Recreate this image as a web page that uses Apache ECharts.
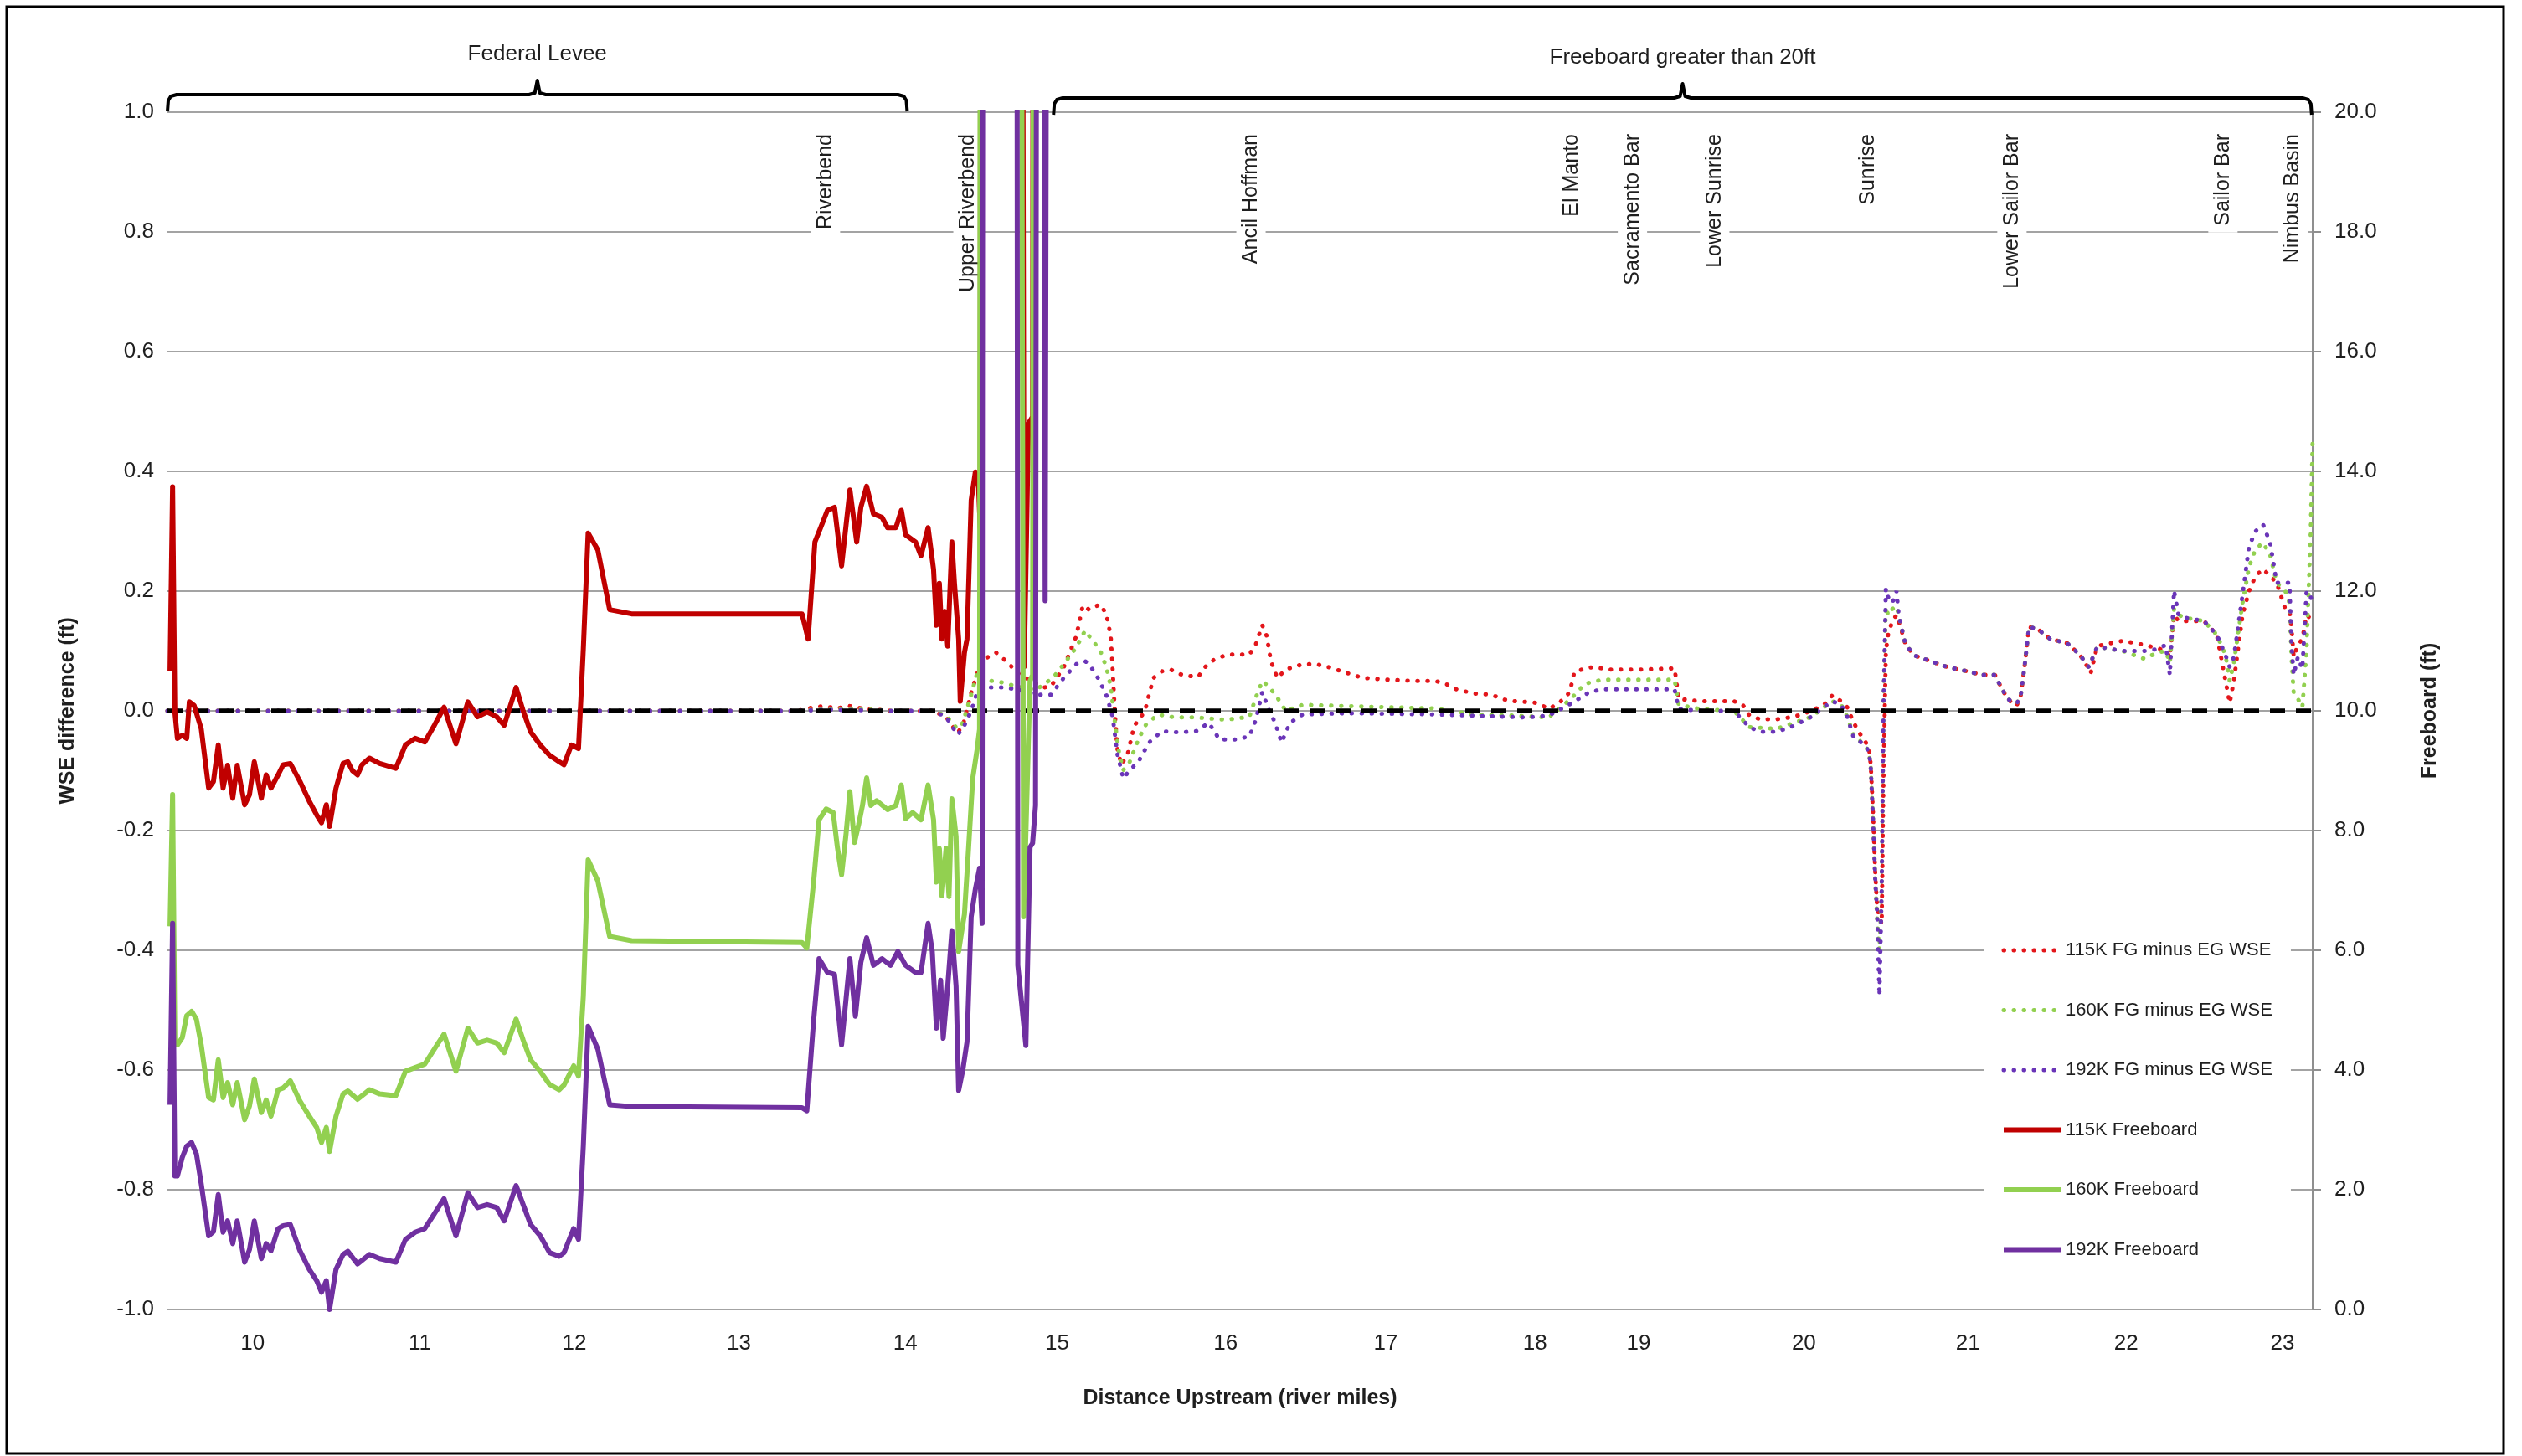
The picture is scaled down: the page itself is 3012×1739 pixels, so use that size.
<!DOCTYPE html>
<html>
<head>
<meta charset="utf-8">
<script src="https://cdn.jsdelivr.net/npm/echarts@6/dist/echarts.min.js"></script>
<style>
html,body{margin:0;padding:0;background:#ffffff;}
#main{width:3012px;height:1739px;}
</style>
</head>
<body>
<div id="main"></div>
<script>
// x = cross-section station index along the river (category-like position, as in the source chart)
const tickStations = [26.5, 78.5, 126.5, 177.7, 229.4, 276.6, 329, 378.8, 425.2, 457.4, 508.8, 559.8, 609, 657.6];
const mileLabels   = ['10','11','12','13','14','15','16','17','18','19','20','21','22','23'];

const locNames    = ['Riverbend','Upper Riverbend','Ancil Hoffman','El Manto','Sacramento Bar','Lower Sunrise','Sunrise','Lower Sailor Bar','Sailor Bar','Nimbus Basin'];
const locStations = [204.6, 248.9, 336.9, 436.5, 455.5, 481.1, 528.9, 573.5, 639.1, 660.9];

const bracketNames  = ['Federal Levee', 'Freeboard greater than 20ft'];
const bracketStart  = [0, 275.5];
const bracketEnd    = [230, 666.7];

const seriesNames = ['115K FG minus EG WSE','160K FG minus EG WSE','192K FG minus EG WSE','115K Freeboard','160K Freeboard','192K Freeboard'];

// WSE difference (ft), left axis
const d115 = [[0,0],[60,0],[120,0],[196,0],[200,0.005],[204,0.008],[208,0.004],[212,0.008],[217,0.003],[225,0],[238,0],[242.1,-0.01],[245.6,-0.037],[247.3,-0.025],[249.9,0.03],[251.7,0.062],[253.4,0.085],[257.7,0.097],[260.3,0.085],[264.7,0.062],[268.5,0.05],[272.5,0.039],[274.7,0.041],[278.7,0.073],[282.6,0.125],[284.6,0.176],[286.6,0.169],[290.0,0.178],[291.9,0.162],[293.3,0.125],[293.9,0.069],[294.6,-0.006],[295.3,-0.062],[296.6,-0.09],[298.6,-0.071],[300.6,-0.025],[303.9,-0.001],[305.2,0.027],[306.6,0.055],[309.2,0.066],[311.9,0.069],[315.9,0.059],[320.5,0.057],[323.1,0.076],[325.8,0.087],[329.8,0.094],[333.1,0.094],[336.4,0.094],[338.4,0.111],[340.4,0.143],[341.8,0.125],[343.1,0.083],[345.1,0.055],[347.7,0.069],[353.0,0.078],[357.0,0.078],[361.0,0.073],[366.3,0.064],[371.6,0.055],[379.6,0.052],[387.6,0.05],[394.2,0.05],[397.5,0.045],[400.8,0.036],[406.1,0.029],[411.5,0.027],[416.8,0.017],[422.1,0.015],[426.1,0.013],[429.4,0.003],[432.7,0.013],[436.0,0.031],[437.4,0.064],[440.7,0.071],[443.3,0.073],[448.6,0.069],[459.3,0.069],[468.6,0.071],[469.9,0.02],[476.5,0.016],[481.8,0.016],[487.1,0.016],[489.8,0.01],[491.8,-0.007],[495.1,-0.014],[500.4,-0.014],[505.7,-0.01],[511.1,0],[515.0,0.01],[517.7,0.026],[520.4,0.016],[522.3,0.006],[524.3,-0.02],[527.0,-0.045],[529.0,-0.06],[529.6,-0.09],[530.3,-0.17],[531.0,-0.27],[531.6,-0.33],[533.0,-0.356],[533.6,-0.1],[534.3,0.1],[535.0,0.127],[536.3,0.15],[537.6,0.16],[538.3,0.15],[540.3,0.113],[542.9,0.093],[548.2,0.083],[553.5,0.073],[558.8,0.067],[564.2,0.06],[568.2,0.06],[569.5,0.046],[572.1,0.02],[574.8,0.008],[576.1,0.02],[577.4,0.073],[578.8,0.14],[581.4,0.137],[585.4,0.12],[590.7,0.113],[594.7,0.093],[597.4,0.07],[598.0,0.063],[600.0,0.107],[601.4,0.11],[608.0,0.117],[614.6,0.11],[618.6,0.105],[621.3,0.1],[622.6,0.09],[623.9,0.16],[625.3,0.15],[627.9,0.15],[633.2,0.15],[637.2,0.127],[639.9,0.05],[641.2,0.013],[642.5,0.05],[645.2,0.16],[647.2,0.2],[649.2,0.225],[651.6,0.237],[653.8,0.225],[655.8,0.214],[658.5,0.17],[659.8,0.167],[660.4,0.14],[661.1,0.09],[662.4,0.11],[663.8,0.12],[665.1,0.16],[666.4,0.154]];

const d160 = [[0,0],[60,0],[120,0],[196,0],[205,0.003],[212,0.004],[225,0],[238,0],[242.1,-0.008],[245.6,-0.03],[247.3,-0.02],[249.9,0.027],[251.7,0.062],[253.4,0.05],[257.7,0.05],[264.7,0.04],[270,0.035],[275.3,0.055],[278.7,0.078],[282.6,0.106],[285.3,0.134],[288.0,0.115],[290.0,0.101],[291.9,0.073],[293.3,0.041],[294.6,-0.02],[295.9,-0.071],[297.2,-0.099],[299.2,-0.085],[301.2,-0.057],[303.9,-0.025],[307.9,-0.006],[313.2,-0.011],[320,-0.011],[329.1,-0.015],[336.4,-0.01],[338.4,0.022],[340.4,0.05],[342.4,0.041],[345.1,0.022],[347.7,0],[353.0,0.01],[366.3,0.008],[379.6,0.006],[394.2,0.004],[406.1,-0.006],[419,-0.008],[429.4,-0.011],[432.7,0.003],[436.7,0.022],[440.7,0.045],[446.0,0.052],[468.6,0.052],[469.9,0.01],[476.5,0.003],[487.1,0],[491.8,-0.027],[500.4,-0.03],[505.7,-0.02],[511.1,-0.01],[515.0,0.006],[517.7,0.016],[520.4,0.01],[522.3,-0.01],[524.3,-0.041],[527.0,-0.054],[529.0,-0.067],[529.6,-0.094],[530.3,-0.181],[531.0,-0.282],[531.6,-0.35],[532.3,-0.4],[533.0,-0.3],[533.6,0.02],[534.3,0.174],[535.0,0.16],[536.3,0.17],[537.6,0.175],[538.3,0.16],[540.3,0.113],[542.9,0.093],[548.2,0.083],[553.5,0.073],[558.8,0.067],[564.2,0.06],[568.2,0.06],[569.5,0.046],[572.1,0.02],[574.8,0.012],[576.1,0.02],[577.4,0.073],[578.8,0.14],[581.4,0.137],[585.4,0.12],[590.7,0.113],[594.7,0.093],[597.4,0.073],[600.0,0.107],[608.0,0.1],[614.6,0.087],[618.6,0.097],[621.3,0.1],[622.6,0.08],[623.9,0.17],[625.3,0.16],[627.9,0.155],[633.2,0.15],[637.2,0.127],[639.9,0.093],[641.2,0.05],[642.5,0.08],[645.2,0.18],[647.2,0.24],[649.2,0.27],[651.6,0.281],[653.8,0.26],[655.8,0.214],[658.5,0.2],[659.8,0.18],[660.4,0.09],[661.1,0.03],[662.4,0.02],[663.8,0.006],[665.1,0.1],[666.4,0.3],[667,0.46]];

const d192 = [[0,0],[60,0],[120,0],[196,0],[205,0.002],[225,0],[238,0],[242.1,-0.01],[245.6,-0.04],[247.3,-0.03],[249.9,0],[251.7,0.03],[253.4,0.039],[260.3,0.039],[264.7,0.035],[270,0.027],[274.7,0.027],[278.7,0.055],[282.6,0.078],[285.3,0.083],[286.6,0.078],[289.3,0.055],[291.9,0.027],[293.9,-0.01],[295.3,-0.071],[297.2,-0.113],[299.2,-0.099],[301.9,-0.085],[305.2,-0.053],[309.2,-0.034],[314.5,-0.036],[319.8,-0.034],[323.8,-0.02],[327.1,-0.048],[331.8,-0.048],[336.4,-0.043],[338.4,-0.015],[340.4,0.031],[342.4,0.003],[344.4,-0.02],[346.4,-0.053],[349.0,-0.02],[353.0,-0.006],[366.3,-0.004],[394.2,-0.006],[422.1,-0.011],[429.4,-0.008],[436.7,0.013],[442.0,0.031],[446.0,0.036],[468.6,0.036],[469.9,0.003],[476.5,0],[487.1,0],[491.8,-0.027],[495.1,-0.035],[500.4,-0.035],[505.7,-0.025],[511.1,-0.01],[515.0,0.006],[517.7,0.016],[520.4,0.01],[522.3,-0.01],[524.3,-0.045],[527.0,-0.054],[529.0,-0.067],[529.6,-0.094],[530.3,-0.181],[531.0,-0.282],[531.6,-0.342],[532.3,-0.476],[533.0,-0.3],[533.6,0.02],[534.3,0.204],[535.0,0.19],[536.3,0.18],[537.6,0.2],[538.3,0.16],[540.3,0.113],[542.9,0.093],[548.2,0.083],[553.5,0.073],[558.8,0.067],[564.2,0.06],[568.2,0.06],[569.5,0.046],[572.1,0.02],[574.8,0.012],[576.1,0.02],[577.4,0.073],[578.8,0.14],[581.4,0.137],[585.4,0.12],[590.7,0.113],[594.7,0.093],[597.4,0.073],[600.0,0.107],[608.0,0.1],[614.6,0.1],[618.6,0.103],[621.3,0.11],[622.6,0.06],[623.9,0.201],[625.3,0.16],[627.9,0.155],[633.2,0.15],[637.2,0.127],[639.9,0.093],[641.2,0.073],[642.5,0.09],[645.2,0.194],[647.2,0.274],[649.2,0.3],[651.6,0.311],[653.8,0.28],[655.8,0.214],[658.5,0.214],[659.8,0.214],[660.4,0.113],[661.1,0.06],[662.4,0.09],[663.8,0.07],[665.1,0.2],[666.4,0.19],[667,0.18]];

// Freeboard (ft), right axis (values above 20 run off the top of the chart)
const fb115 = [[0.8,10.67],[1.6,13.74],[2.3,9.98],[3.1,9.54],[4.6,9.59],[6.0,9.54],[6.8,10.15],[8.3,10.09],[10.5,9.70],[12.8,8.71],[14.3,8.82],[15.8,9.43],[17.3,8.71],[18.7,9.09],[20.3,8.54],[21.7,9.09],[24.0,8.43],[25.5,8.6],[27.0,9.15],[29.2,8.54],[30.7,8.93],[32.2,8.71],[34.4,8.93],[36.0,9.1],[38.2,9.12],[41.2,8.82],[44.1,8.49],[46.4,8.26],[47.9,8.13],[49.4,8.43],[50.4,8.07],[52.4,8.71],[54.6,9.12],[56.1,9.15],[57.5,9.0],[59.1,8.93],[60.5,9.1],[62.8,9.21],[66,9.12],[71.0,9.04],[74.0,9.43],[77.0,9.54],[80.0,9.48],[83.0,9.76],[86.0,10.06],[89.7,9.45],[93.4,10.15],[96.4,9.9],[99.4,9.98],[102.4,9.9],[104.7,9.76],[108.4,10.39],[110.6,10.0],[112.9,9.65],[115.9,9.43],[118.8,9.26],[121.8,9.15],[123.3,9.1],[125.6,9.43],[127.8,9.37],[129.3,11.03],[130.8,12.97],[133.8,12.69],[137.5,11.69],[144.3,11.62],[197.3,11.62],[199.2,11.2],[201.3,12.82],[203.1,13.06],[205.2,13.35],[207.4,13.40],[209.6,12.42],[212.2,13.69],[214.3,12.82],[215.6,13.40],[217.4,13.75],[219.5,13.29],[222.2,13.23],[223.9,13.06],[226.5,13.06],[228.2,13.35],[229.5,12.94],[232.6,12.82],[234.3,12.59],[236.5,13.06],[238.2,12.36],[239.1,11.43],[240.0,12.13],[240.8,11.20],[241.7,11.66],[242.6,11.08],[243.9,12.82],[244.7,12.13],[246.0,11.20],[246.5,10.16],[247.8,10.97],[248.6,11.20],[249.9,13.52],[251.2,13.99],[252.1,13.87],[252.7,13.06],[253.0,40],[265.2,40],[266.4,10.74],[267.7,14.80],[269.0,14.91],[269.4,40],[280,40]];

const fb160 = [[0.8,6.4],[1.6,8.6],[2.3,4.5],[3.1,4.42],[4.6,4.54],[6.0,4.91],[7.5,4.98],[9.0,4.85],[10.5,4.42],[12.8,3.54],[14.3,3.5],[15.8,4.17],[17.3,3.54],[18.7,3.79],[20.3,3.42],[21.7,3.79],[24.0,3.17],[25.5,3.4],[27.0,3.85],[29.2,3.29],[30.7,3.5],[32.2,3.23],[34.4,3.67],[36,3.7],[38.2,3.82],[41.2,3.48],[44.1,3.23],[46.4,3.04],[47.9,2.79],[49.4,3.04],[50.4,2.64],[52.4,3.23],[54.6,3.60],[56.1,3.65],[59.1,3.51],[62.8,3.67],[66,3.6],[71.0,3.57],[74.0,3.98],[77.0,4.04],[80.0,4.1],[83.0,4.35],[86.0,4.60],[89.7,3.98],[93.4,4.70],[96.4,4.45],[99.4,4.5],[102.4,4.45],[104.7,4.29],[108.4,4.85],[110.6,4.5],[112.9,4.17],[115.9,3.98],[118.8,3.76],[121.8,3.67],[123.3,3.75],[126.3,4.07],[127.8,3.9],[129.3,5.23],[130.8,7.51],[133.8,7.16],[137.5,6.23],[144.3,6.16],[197.3,6.13],[198.8,6.04],[200.9,7.14],[202.6,8.18],[204.8,8.36],[207,8.3],[208.3,7.72],[209.6,7.26],[211,7.95],[212.2,8.65],[213.6,7.8],[214.9,8.1],[216.1,8.42],[217.4,8.88],[218.7,8.42],[220.5,8.5],[223.9,8.35],[226.5,8.42],[228.2,8.76],[229.5,8.2],[231.7,8.3],[234.3,8.18],[236.5,8.76],[238.2,8.18],[239.1,7.14],[240,7.7],[240.8,6.91],[242.1,7.7],[243,6.9],[243.9,8.53],[245.2,7.9],[246.0,5.98],[246.9,6.3],[247.8,6.6],[249.1,7.72],[250.4,8.88],[251.7,9.34],[252.5,9.69],[253.0,40],[264.9,40],[266.2,6.56],[268.2,10.5],[269.0,10.6],[269.6,40],[272.4,40],[272.9,17.8],[273.5,40],[280,40]];

const fb192 = [[0.8,3.42],[1.6,6.45],[2.3,2.23],[3.1,2.23],[4.6,2.54],[6.0,2.73],[7.5,2.79],[9.0,2.60],[10.5,2.10],[12.8,1.23],[14.3,1.3],[15.8,1.92],[17.3,1.29],[18.7,1.48],[20.3,1.10],[21.7,1.48],[24.0,0.79],[25.5,1.0],[27.0,1.48],[29.2,0.85],[30.7,1.1],[32.2,0.98],[34.4,1.35],[36,1.4],[38.2,1.42],[41.2,0.98],[44.1,0.67],[46.4,0.48],[47.9,0.29],[49.4,0.48],[50.4,0.0],[52.4,0.67],[54.6,0.92],[56.1,0.97],[59.1,0.76],[62.8,0.92],[66,0.85],[71.0,0.79],[74.0,1.17],[77.0,1.29],[80.0,1.35],[83.0,1.60],[86.0,1.85],[89.7,1.23],[93.4,1.95],[96.4,1.7],[99.4,1.75],[102.4,1.7],[104.7,1.48],[108.4,2.07],[110.6,1.75],[112.9,1.42],[115.9,1.23],[118.8,0.95],[121.8,0.89],[123.3,0.95],[126.3,1.35],[127.8,1.17],[129.3,2.73],[130.8,4.73],[133.8,4.35],[137.5,3.42],[144.3,3.39],[197.3,3.37],[198.8,3.32],[200.9,4.82],[202.6,5.86],[205.2,5.63],[207.4,5.6],[209.6,4.42],[212.2,5.86],[213.9,4.9],[215.6,5.8],[217.4,6.21],[219.5,5.75],[222.2,5.86],[224.8,5.75],[227.1,5.98],[229.5,5.75],[232.6,5.63],[234.3,5.63],[236.5,6.45],[237.8,5.98],[239.1,4.70],[240.4,5.5],[241.2,4.53],[242.6,5.4],[243.9,6.33],[245.2,5.4],[246.0,3.66],[247.3,4.0],[248.6,4.47],[249.9,6.56],[251.2,7.02],[252.5,7.37],[253.3,6.45],[253.7,40],[263.9,40],[264.4,5.75],[266.9,4.41],[268.2,7.72],[269.0,7.79],[269.9,8.42],[270.6,40],[271.8,40],[272.9,11.84],[274.0,40],[280,40]];

const zeroLine = [[0,0],[667,0]];

const FONT = '"Liberation Sans", Arial, sans-serif';
const TXT = '#1f1f1f';
const RED = '#C00000', GREEN = '#92D050', PURPLE = '#7030A0';
const RED_DOT = '#E3161B', GREEN_DOT = '#92D050', PURPLE_DOT = '#6A35B8';

const fmt1 = v => (Math.abs(v) < 1e-9 ? 0 : v).toFixed(1);

function dotted(name, data, color) {
  return { name, type: 'line', yAxisIndex: 0, data, symbol: 'none', showSymbol: false,
    lineStyle: { color, width: 5, type: [0.5, 11.5], cap: 'round' }, itemStyle: { color }, z: 2, silent: true };
}
function solid(name, data, color) {
  return { name, type: 'line', yAxisIndex: 1, data, symbol: 'none', showSymbol: false,
    lineStyle: { color, width: 6, join: 'round' }, itemStyle: { color }, z: 3, silent: true };
}

const chart = echarts.init(document.getElementById('main'), null, { renderer: 'canvas' });
const option = {
  animation: false,
  backgroundColor: '#ffffff',
  textStyle: { fontFamily: FONT },
  grid: { left: 200, right: 250, top: 134, bottom: 175, containLabel: false, outerBoundsMode: 'none' },
  legend: {
    data: seriesNames,
    orient: 'vertical', left: 2370, top: 1110,
    itemWidth: 69, itemHeight: 26, itemGap: 45.5,
    padding: [12, 22, 12, 20],
    backgroundColor: '#ffffff',
    textStyle: { fontSize: 22, lineHeight: 26, color: TXT, fontFamily: FONT },
    lineStyle: { width: 'inherit' },
    itemStyle: { opacity: 0 },
    selectedMode: false
  },
  xAxis: {
    type: 'value', min: 0, max: 667,
    axisLine: { show: false }, axisTick: { show: false }, splitLine: { show: false },
    axisLabel: {
      customValues: tickStations,
      formatter: v => { const i = tickStations.findIndex(t => Math.abs(t - v) < 1e-6); return i >= 0 ? mileLabels[i] : ''; },
      fontSize: 26, color: TXT, margin: 28, fontFamily: FONT
    },
    name: 'Distance Upstream (river miles)', nameLocation: 'middle', nameGap: 94, nameMoveOverlap: false,
    nameTextStyle: { fontSize: 25, fontWeight: 'bold', color: TXT, fontFamily: FONT }
  },
  yAxis: [
    {
      type: 'value', min: -1, max: 1, interval: 0.2, position: 'left',
      axisLine: { show: false }, axisTick: { show: false },
      splitLine: { show: true, lineStyle: { color: '#a3a3a3', width: 2 } },
      axisLabel: { formatter: fmt1, fontSize: 26, color: TXT, margin: 16, fontFamily: FONT },
      name: 'WSE difference (ft)', nameLocation: 'middle', nameRotate: 90, nameGap: 106, nameMoveOverlap: false,
      nameTextStyle: { fontSize: 25, fontWeight: 'bold', color: TXT, fontFamily: FONT }
    },
    {
      type: 'value', min: 0, max: 20, interval: 2, position: 'right',
      axisLine: { show: true, lineStyle: { color: '#8f8f8f', width: 2 } },
      axisTick: { show: true, length: 10, lineStyle: { color: '#8f8f8f', width: 2 } },
      splitLine: { show: false },
      axisLabel: { formatter: fmt1, fontSize: 26, color: TXT, margin: 26, fontFamily: FONT },
      name: 'Freeboard (ft)', nameLocation: 'middle', nameRotate: 90, nameGap: 128, nameMoveOverlap: false,
      nameTextStyle: { fontSize: 25, fontWeight: 'bold', color: TXT, fontFamily: FONT }
    }
  ],
  series: [
    dotted(seriesNames[0], d115, RED_DOT),
    dotted(seriesNames[1], d160, GREEN_DOT),
    dotted(seriesNames[2], d192, PURPLE_DOT),
    { name: 'zero', type: 'line', yAxisIndex: 0, data: zeroLine, symbol: 'none', silent: true, z: 2,
      lineStyle: { color: '#000000', width: 5.5, type: [18, 13] } },
    solid(seriesNames[3], fb115, RED),
    solid(seriesNames[4], fb160, GREEN),
    solid(seriesNames[5], fb192, PURPLE)
  ]
};
chart.setOption(option);

const px = s => chart.convertToPixel({ xAxisIndex: 0, yAxisIndex: 0 }, [s, 0])[0];
const graphics = [];
graphics.push({ type: 'rect', silent: true, z: 20,
  shape: { x: 8, y: 8, width: 2982, height: 1728 },
  style: { fill: 'none', stroke: '#000000', lineWidth: 3 } });

const bracketY = [113, 117];
bracketNames.forEach((name, i) => {
  const x1 = px(bracketStart[i]), x2 = px(bracketEnd[i]), xc = (x1 + x2) / 2;
  const y1 = bracketY[i], y2 = y1 + 20, y0 = y1 - 17;
  graphics.push({ type: 'polyline', silent: true, z: 5,
    shape: { points: [[x1, y2], [x1 + 1, y1 + 7], [x1 + 4, y1 + 2], [x1 + 11, y1], [xc - 10, y1], [xc - 3, y1 - 2], [xc, y0], [xc + 3, y1 - 2], [xc + 10, y1], [x2 - 11, y1], [x2 - 4, y1 + 2], [x2 - 1, y1 + 7], [x2, y2]] },
    style: { fill: 'none', stroke: '#000000', lineWidth: 4, lineJoin: 'round' } });
  graphics.push({ type: 'text', silent: true, z: 5, x: xc, y: y0 - 31,
    style: { text: name, fontSize: 26, fontFamily: FONT, fill: TXT, align: 'center', verticalAlign: 'middle', textAlign: 'center', textVerticalAlign: 'middle' } });
});

locNames.forEach((name, i) => {
  graphics.push({ type: 'text', silent: true, z: 1, x: px(locStations[i]), y: 152, rotation: Math.PI / 2,
    style: { text: name, fontSize: 25, fontFamily: FONT, fill: TXT, align: 'right', verticalAlign: 'middle', textAlign: 'right', textVerticalAlign: 'middle',
      backgroundColor: '#ffffff', padding: [5, 8, 5, 8] } });
});

chart.setOption({ graphic: graphics });
</script>
</body>
</html>
